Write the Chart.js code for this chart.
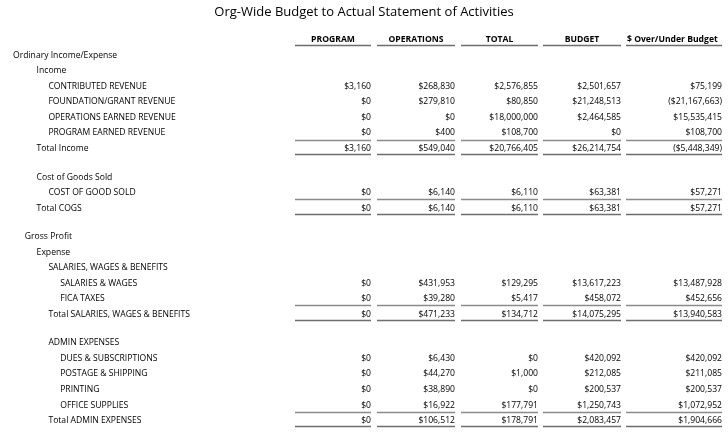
<!DOCTYPE html>
<html>
<head>
<meta charset="utf-8">
<script src="https://cdn.jsdelivr.net/npm/chart.js@4.4.1/dist/chart.umd.min.js"></script>
<style>
  html, body { margin: 0; padding: 0; background: #fff; }
  #wrap { width: 728px; height: 436px; }
</style>
</head>
<body>
<div id="wrap"><canvas id="statementChart"></canvas></div>
<script>
// --- data ---
const columnHeaders = ["PROGRAM", "OPERATIONS", "TOTAL", "BUDGET", "$ Over/Under Budget"];

const rowLabels = [
    "Ordinary Income/Expense", "Income", "CONTRIBUTED REVENUE", "FOUNDATION/GRANT REVENUE",
    "OPERATIONS EARNED REVENUE", "PROGRAM EARNED REVENUE", "Total Income", "",
    "Cost of Goods Sold", "COST OF GOOD SOLD", "Total COGS", "",
    "Gross Profit", "Expense", "SALARIES, WAGES & BENEFITS", "SALARIES & WAGES",
    "FICA TAXES", "Total SALARIES, WAGES & BENEFITS", "",
    "ADMIN EXPENSES", "DUES & SUBSCRIPTIONS", "POSTAGE & SHIPPING", "PRINTING",
    "OFFICE SUPPLIES", "Total ADMIN EXPENSES"
];
const rowLevel = [0, 2, 3, 3, 3, 3, 2, 0, 2, 3, 2, 0, 1, 2, 3, 4, 4, 3, 0, 3, 4, 4, 4, 4, 3];
const totalRows = [6, 10, 17, 24];

const program    = [null, null, 3160, 0, 0, 0, 3160, null, null, 0, 0, null, null, null, null, 0, 0, 0, null, null, 0, 0, 0, 0, 0];
const operations = [null, null, 268830, 279810, 0, 400, 549040, null, null, 6140, 6140, null, null, null, null, 431953, 39280, 471233, null, null, 6430, 44270, 38890, 16922, 106512];
const total      = [null, null, 2576855, 80850, 18000000, 108700, 20766405, null, null, 6110, 6110, null, null, null, null, 129295, 5417, 134712, null, null, 0, 1000, 0, 177791, 178791];
const budget     = [null, null, 2501657, 21248513, 2464585, 0, 26214754, null, null, 63381, 63381, null, null, null, null, 13617223, 458072, 14075295, null, null, 420092, 212085, 200537, 1250743, 2083457];
const overUnder  = [null, null, 75199, -21167663, 15535415, 108700, -5448349, null, null, 57271, 57271, null, null, null, null, 13487928, 452656, 13940583, null, null, 420092, 211085, 200537, 1072952, 1904666];

const valueColumns = [program, operations, total, budget, overUnder];

// --- layout (column geometry on the x scale, row steps on the y scale) ---
const colRight = [371, 455, 538, 621, 722];
const colLeft  = [295, 377, 461, 543, 626];
const labelX0 = 13, indentStep = 11.8;
const FONT = "'Open Sans', 'Noto Sans', sans-serif";
const TEXT_DY = 1.5; // 'middle' baseline sits a little high for this font

// blank spacer rows are a bit shorter than normal rows
const rowPos = [];
rowLabels.forEach((t, i) => {
    if (i === 0) { rowPos.push(0); return; }
    const step = (t === "" || rowLabels[i - 1] === "") ? 0.925 : 1;
    rowPos.push(rowPos[i - 1] + step);
});

function fmtMoney(v) {
    const s = "$" + Math.abs(v).toLocaleString("en-US");
    return v < 0 ? "(" + s + ")" : s;
}

const datasets = [];
datasets.push({
    label: "labels",
    data: rowLabels.map((t, i) => ({ x: labelX0 + rowLevel[i] * indentStep, y: rowPos[i], text: t })),
    align: "left"
});
valueColumns.forEach((col, c) => {
    datasets.push({
        label: columnHeaders[c],
        data: col.map((v, i) => v === null ? null : ({ x: colRight[c], y: rowPos[i], text: fmtMoney(v) })).filter(d => d),
        align: "right"
    });
});

const tablePlugin = {
    id: "tableText",
    afterDatasetsDraw(chart) {
        const ctx = chart.ctx;
        const xs = chart.scales.x, ys = chart.scales.y;
        ctx.save();
        ctx.fillStyle = "#000";
        ctx.textBaseline = "middle";

        // cells
        chart.data.datasets.forEach((ds, di) => {
            const meta = chart.getDatasetMeta(di);
            ctx.font = "8.6px " + FONT;
            ctx.textAlign = ds.align;
            meta.data.forEach((pt, i) => {
                ctx.fillText(ds.data[i].text, pt.x, pt.y + TEXT_DY);
            });
        });

        // header row
        ctx.font = "bold 8.6px " + FONT;
        ctx.textAlign = "center";
        const hy = ys.getPixelForValue(-1) + TEXT_DY;
        columnHeaders.forEach((h, c) => {
            const l = xs.getPixelForValue(colLeft[c]), r = xs.getPixelForValue(colRight[c]);
            if (c === columnHeaders.length - 1) {
                ctx.textAlign = "left";
                ctx.fillText(h, l + 1, hy);
            } else {
                ctx.fillText(h, (l + r) / 2, hy);
            }
        });

        // rules
        function rule(yVal, color, w) {
            const y = Math.round(ys.getPixelForValue(yVal)) + 0.5;
            ctx.strokeStyle = color;
            ctx.lineWidth = w;
            colLeft.forEach((l, c) => {
                ctx.beginPath();
                ctx.moveTo(xs.getPixelForValue(l), y);
                ctx.lineTo(xs.getPixelForValue(colRight[c]), y);
                ctx.stroke();
            });
        }
        rule(-0.55, "#6e6e6e", 1.3);
        totalRows.forEach(r => {
            rule(rowPos[r] - 0.48, "#8a8a8a", 1.3);
            rule(rowPos[r] + 0.45, "#6e6e6e", 1.3);
        });
        ctx.restore();
    }
};

new Chart(document.getElementById("statementChart"), {
    type: "scatter",
    data: { datasets: datasets },
    options: {
        responsive: true,
        maintainAspectRatio: false,
        animation: false,
        events: [],
        elements: { point: { radius: 0, hoverRadius: 0 } },
        layout: { padding: { top: 0, bottom: 9.2, left: 0, right: 0 } },
        scales: {
            x: { type: "linear", min: 0, max: 728, display: false },
            y: { type: "linear", min: -1.5, max: rowPos[rowPos.length - 1] + 0.5, reverse: true, display: false }
        },
        plugins: {
            legend: { display: false },
            tooltip: { enabled: false },
            title: {
                display: true,
                text: "Org-Wide Budget to Actual Statement of Activities",
                color: "#000",
                font: { family: FONT, size: 13, weight: "normal", lineHeight: 1.2 },
                padding: { top: 4.2, bottom: 10.95 }
            }
        }
    },
    plugins: [tablePlugin]
});
</script>
</body>
</html>
